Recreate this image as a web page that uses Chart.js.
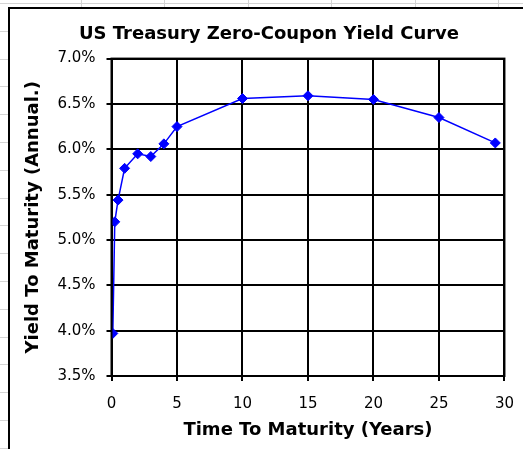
<!DOCTYPE html>
<html>
<head>
<meta charset="utf-8">
<script src="https://cdn.jsdelivr.net/npm/chart.js@4"></script>
<style>
  html, body { margin: 0; padding: 0; width: 523px; height: 449px; overflow: hidden; background: #fff; }
  /* spreadsheet cells behind the chart */
  #sheet {
    position: absolute; left: 0; top: 0; width: 523px; height: 449px;
    background:
      repeating-linear-gradient(to right, transparent 0 81px, #d4d4d4 81px 82px, transparent 82px 83.5px),
      repeating-linear-gradient(to bottom, transparent 0 3px, #d4d4d4 3px 4px, transparent 4px 27.8px);
  }
  #frame {
    position: absolute; left: 8px; top: 7px; width: 540px; height: 470px;
    border-left: 2px solid #000; border-top: 2px solid #000; background: #fff;
  }
  #wrap { position: absolute; left: 0; top: 0; width: 518px; height: 440px; }
</style>
</head>
<body>
<div id="sheet"></div>
<div id="frame">
  <div id="wrap"><canvas id="c"></canvas></div>
</div>
<script>
// maturities in years
var maturities = [0.1, 0.25, 0.5, 1, 2, 3, 4, 5, 10, 15, 20, 25, 29.3];
// zero-coupon yields in percent
var yields = [3.97, 5.20, 5.44, 5.79, 5.95, 5.92, 6.06, 6.25, 6.56, 6.59, 6.55, 6.35, 6.07];
var xTicks = [0, 5, 10, 15, 20, 25, 30];
var yTicks = [3.5, 4.0, 4.5, 5.0, 5.5, 6.0, 6.5, 7.0];

var points = maturities.map(function (m, i) { return { x: m, y: yields[i] }; });

var tickFont = { family: 'DejaVu Sans', size: 15 };
var titleFont = { family: 'DejaVu Sans', size: 18, weight: 'bold' };

new Chart(document.getElementById('c'), {
  type: 'scatter',
  data: {
    datasets: [{
      data: points,
      showLine: true,
      borderColor: '#0000ff',
      borderWidth: 1.5,
      backgroundColor: '#0000ff',
      pointStyle: 'rectRot',
      pointRadius: 5,
      pointBorderWidth: 1,
      pointBorderColor: '#0000ff',
      tension: 0
    }]
  },
  options: {
    responsive: true,
    maintainAspectRatio: false,
    animation: false,
    layout: { padding: 0 },
    plugins: {
      legend: { display: false },
      tooltip: { enabled: false },
      title: {
        display: true,
        text: 'US Treasury Zero-Coupon Yield Curve',
        color: '#000',
        font: titleFont,
        padding: { top: 14.5, bottom: 13.5 }
      }
    },
    scales: {
      x: {
        type: 'linear',
        min: xTicks[0],
        max: xTicks[xTicks.length - 1],
        afterBuildTicks: function (s) { s.ticks = xTicks.map(function (v) { return { value: v }; }); },
        afterFit: function (s) { s.height = 73; },
        ticks: { color: '#000', font: tickFont, padding: 14, maxRotation: 0 },
        grid: { color: '#000', lineWidth: 2, tickLength: 5, tickColor: '#000' },
        border: { color: '#000', width: 2 },
        title: { display: true, text: 'Time To Maturity (Years)', color: '#000', font: titleFont, padding: { top: 0, bottom: 8 } }
      },
      y: {
        type: 'linear',
        min: yTicks[0],
        max: yTicks[yTicks.length - 1],
        afterBuildTicks: function (s) { s.ticks = yTicks.map(function (v) { return { value: v }; }); },
        afterFit: function (s) { s.width = 101.5; },
        ticks: {
          color: '#000', font: tickFont, padding: 11,
          callback: function (v) { return v.toFixed(1) + '%'; }
        },
        grid: { color: '#000', lineWidth: 2, tickLength: 5, tickColor: '#000' },
        border: { color: '#000', width: 2 },
        title: { display: true, text: 'Yield To Maturity (Annual.)', color: '#000', font: titleFont, padding: { top: 13, bottom: 0 } }
      },
      // empty right-hand gutter so the title stays centred on the whole chart
      gutter: {
        type: 'linear',
        position: 'right',
        min: 0,
        max: 1,
        afterFit: function (s) { s.width = 23; },
        ticks: { display: false },
        grid: { display: false },
        border: { display: false }
      }
    }
  },
  plugins: [{
    id: 'plotBox',
    afterDraw: function (chart) {
      var a = chart.chartArea, ctx = chart.ctx;
      ctx.save();
      ctx.strokeStyle = '#000';
      ctx.lineWidth = 2;
      ctx.strokeRect(a.left, a.top, a.right - a.left, a.bottom - a.top);
      ctx.restore();
    }
  }]
});
</script>
</body>
</html>
